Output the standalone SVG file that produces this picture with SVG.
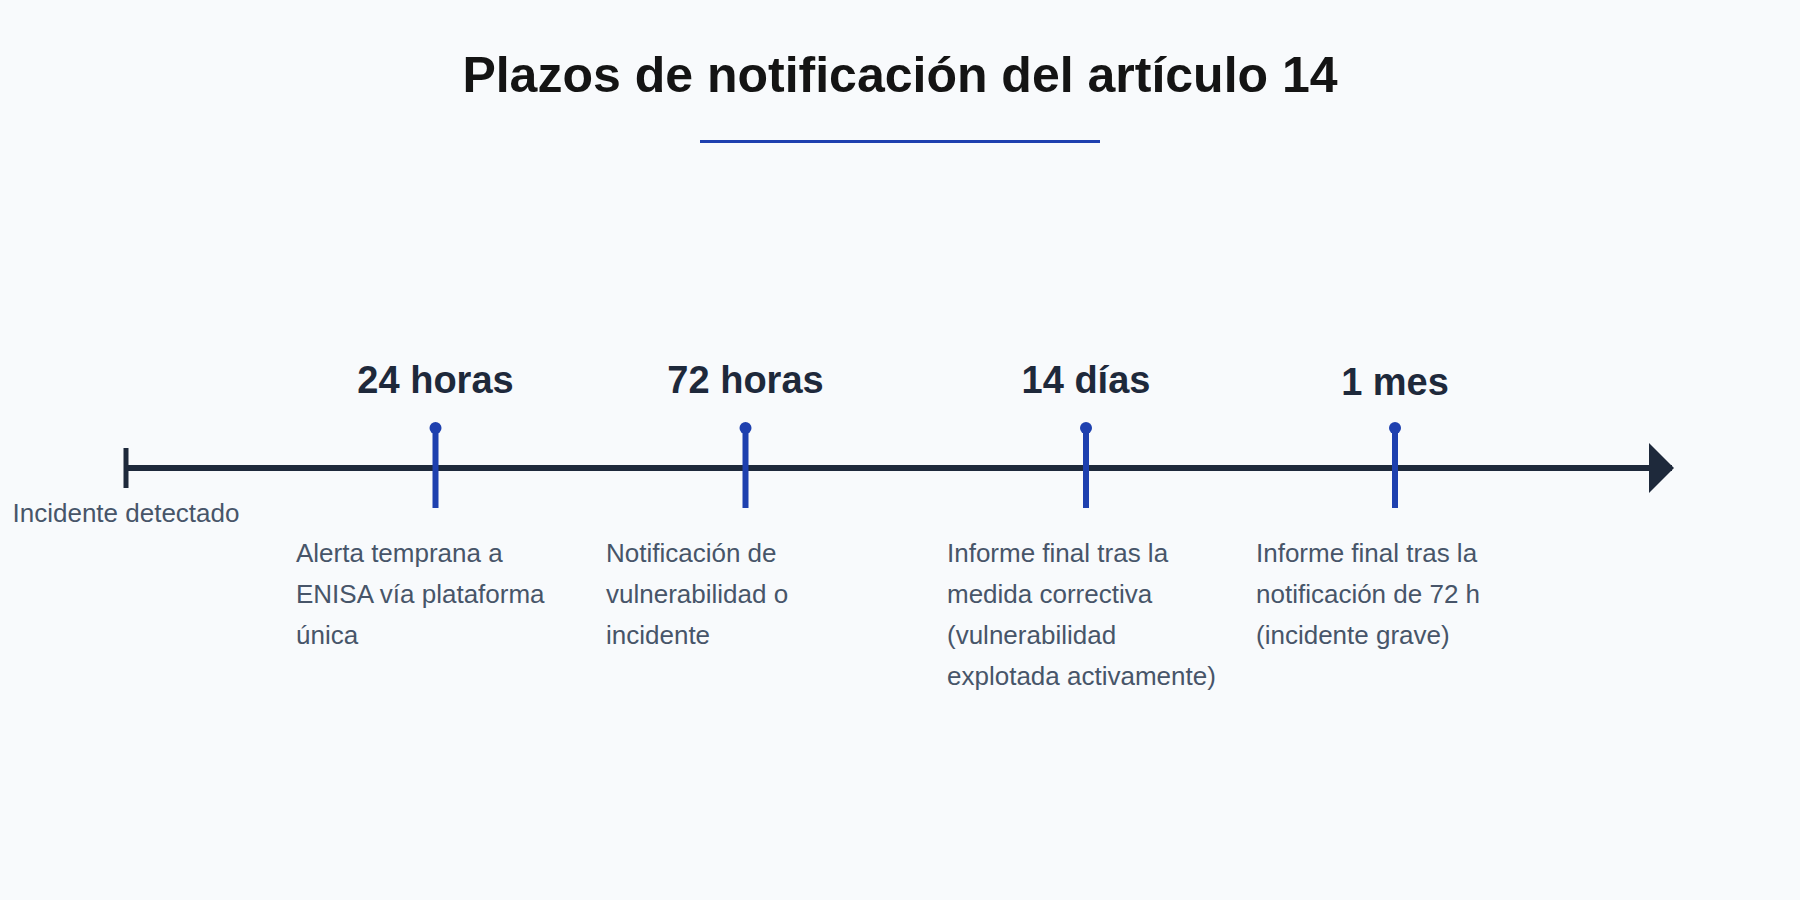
<svg xmlns="http://www.w3.org/2000/svg" width="1800" height="900" viewBox="0 0 1800 900">
  <style>
    .title { font-family: "Liberation Sans", Arial, sans-serif; font-weight: bold; font-size: 50px; fill: #141414; }
    .lbl { font-family: "Liberation Sans", Arial, sans-serif; font-weight: bold; font-size: 38px; fill: #1e293b; }
    .desc { font-family: "Liberation Sans", Arial, sans-serif; font-size: 26px; fill: #475569; }
    .tick { stroke: #1e40af; stroke-width: 6; }
    .dot { fill: #1e40af; }
    .axis { stroke: #1e293b; stroke-width: 6; }
  </style>
  <rect width="1800" height="900" fill="#f8fafc"/>

  <g id="title">
    <text class="title" x="900" y="92" text-anchor="middle">Plazos de notificación del artículo 14</text>
    <line x1="700" y1="141.5" x2="1100" y2="141.5" stroke="#1e40af" stroke-width="3"/>
  </g>

  <g id="connectors">
    <line class="axis" x1="126" y1="468" x2="1672" y2="468"/>
    <polygon points="1649,443 1674,468 1649,493" fill="#1e293b"/>
    <line x1="126" y1="448" x2="126" y2="488" stroke="#1e293b" stroke-width="5"/>
  </g>

  <g id="start">
    <text class="desc" x="126" y="522" text-anchor="middle">Incidente detectado</text>
  </g>

  <g id="m24h">
    <line class="tick" x1="435.5" y1="430" x2="435.5" y2="508"/>
    <circle class="dot" cx="435.5" cy="428" r="6"/>
    <text class="lbl" x="435.5" y="393" text-anchor="middle">24 horas</text>
    <text class="desc" x="296" y="562">Alerta temprana a</text>
    <text class="desc" x="296" y="603">ENISA vía plataforma</text>
    <text class="desc" x="296" y="644">única</text>
  </g>

  <g id="m72h">
    <line class="tick" x1="745.5" y1="430" x2="745.5" y2="508"/>
    <circle class="dot" cx="745.5" cy="428" r="6"/>
    <text class="lbl" x="745.5" y="393" text-anchor="middle">72 horas</text>
    <text class="desc" x="606" y="562">Notificación de</text>
    <text class="desc" x="606" y="603">vulnerabilidad o</text>
    <text class="desc" x="606" y="644">incidente</text>
  </g>

  <g id="m14d">
    <line class="tick" x1="1086" y1="430" x2="1086" y2="508"/>
    <circle class="dot" cx="1086" cy="428" r="6"/>
    <text class="lbl" x="1086" y="393" text-anchor="middle">14 días</text>
    <text class="desc" x="947" y="562">Informe final tras la</text>
    <text class="desc" x="947" y="603">medida correctiva</text>
    <text class="desc" x="947" y="644">(vulnerabilidad</text>
    <text class="desc" x="947" y="685">explotada activamente)</text>
  </g>

  <g id="m1mes">
    <line class="tick" x1="1395" y1="430" x2="1395" y2="508"/>
    <circle class="dot" cx="1395" cy="428" r="6"/>
    <text class="lbl" x="1395" y="394.5" text-anchor="middle">1 mes</text>
    <text class="desc" x="1256" y="562">Informe final tras la</text>
    <text class="desc" x="1256" y="603">notificación de 72 h</text>
    <text class="desc" x="1256" y="644">(incidente grave)</text>
  </g>
</svg>
